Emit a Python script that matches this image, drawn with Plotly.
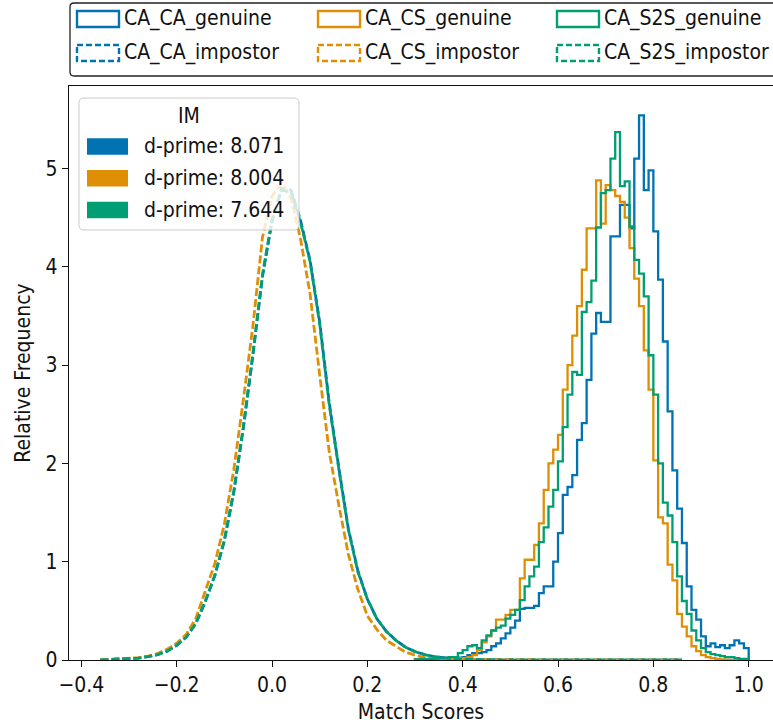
import plotly.graph_objects as go

# ---------------- data ----------------
pairs = ["CA_CA", "CA_CS", "CA_S2S"]
colors = ["#0173B2", "#DE8F05", "#029E73"]
dprime = [8.071, 8.004, 7.644]

# genuine histograms: bins of width 0.01 from 0.30 to 1.00 (density)
gen_edges = [round(0.30 + 0.01 * i, 2) for i in range(71)]
gen_ca_ca = [0.005, 0.005, 0.008, 0.01, 0.01, 0.012, 0.015, 0.02, 0.02, 0.025,
             0.03, 0.05, 0.07, 0.07, 0.08, 0.10, 0.14, 0.17, 0.22, 0.27,
             0.33, 0.40, 0.52, 0.53, 0.53, 0.55, 0.68, 0.75, 0.75, 1.00,
             1.29, 1.68, 1.76, 1.88, 2.24, 2.41, 2.85, 3.32, 3.53, 3.44,
             3.44, 4.31, 4.31, 4.63, 4.63, 4.39, 5.10, 5.54, 4.78, 4.98,
             4.36, 3.87, 3.24, 2.53, 1.93, 1.54, 1.19, 0.75, 0.51, 0.41,
             0.24, 0.14, 0.17, 0.13, 0.15, 0.12, 0.15, 0.20, 0.17, 0.12]
gen_ca_cs = [0.003, 0.004, 0.005, 0.006, 0.008, 0.01, 0.01, 0.012, 0.015, 0.02,
             0.02, 0.03, 0.05, 0.10, 0.18, 0.24, 0.30, 0.41, 0.41, 0.46,
             0.51, 0.51, 0.83, 1.02, 1.02, 1.17, 1.39, 1.73, 2.00, 2.14,
             2.29, 2.75, 3.00, 3.30, 3.60, 3.97, 4.39, 4.39, 4.88, 4.44,
             4.83, 4.78, 4.72, 4.66, 4.50, 4.19, 3.88, 3.60, 3.15, 2.75,
             2.03, 1.45, 1.39, 0.97, 0.81, 0.47, 0.34, 0.24, 0.14, 0.09,
             0.05, 0.03, 0.02, 0.01, 0.005, 0.003, 0.002, 0.0, 0.0, 0.0]
gen_ca_s2s = [0.005, 0.008, 0.01, 0.012, 0.015, 0.02, 0.02, 0.03, 0.03, 0.07,
              0.10, 0.14, 0.15, 0.12, 0.20, 0.25, 0.30, 0.33, 0.35, 0.42,
              0.46, 0.51, 0.61, 0.75, 0.85, 0.95, 1.20, 1.35, 1.56, 1.73,
              2.02, 2.37, 2.70, 2.93, 2.90, 3.54, 3.64, 3.86, 4.40, 4.75,
              4.78, 5.10, 5.37, 4.82, 4.87, 4.41, 4.07, 3.93, 3.70, 3.10,
              2.70, 2.00, 1.60, 1.47, 1.20, 0.85, 0.60, 0.47, 0.30, 0.20,
              0.12, 0.08, 0.06, 0.05, 0.04, 0.03, 0.03, 0.02, 0.01, 0.01]

# impostor distributions: sampled every 0.02 from -0.36 to 0.86
imp_x = [round(-0.36 + 0.02 * i, 2) for i in range(62)]
imp_ca_ca = [0.0, 0.004, 0.008, 0.012, 0.02, 0.034, 0.055, 0.09, 0.15, 0.235,
             0.37, 0.59, 0.86, 1.21, 1.71, 2.36, 3.10, 3.90, 4.46, 4.80,
             4.78, 4.47, 4.06, 3.44, 2.62, 1.96, 1.34, 0.91, 0.62, 0.42,
             0.29, 0.20, 0.13, 0.085, 0.055, 0.035, 0.02, 0.012, 0.007, 0.004,
             0.003, 0.003, 0.002, 0.002, 0.002, 0.002, 0.002, 0.002, 0.002, 0.002,
             0.002, 0.002, 0.002, 0.002, 0.002, 0.002, 0.002, 0.002, 0.002, 0.002,
             0.002, 0.0]
imp_ca_cs = [0.0, 0.005, 0.01, 0.015, 0.025, 0.04, 0.065, 0.11, 0.17, 0.26,
             0.42, 0.70, 0.98, 1.38, 1.94, 2.65, 3.40, 4.30, 4.72, 4.85,
             4.70, 4.28, 3.72, 2.90, 2.12, 1.58, 1.08, 0.72, 0.45, 0.31,
             0.20, 0.14, 0.08, 0.05, 0.025, 0.015, 0.01, 0.006, 0.004, 0.003,
             0.002, 0.002, 0.002, 0.002, 0.002, 0.002, 0.002, 0.002, 0.002, 0.002,
             0.002, 0.002, 0.002, 0.002, 0.002, 0.002, 0.002, 0.002, 0.002, 0.002,
             0.002, 0.0]
imp_ca_s2s = [0.0, 0.004, 0.008, 0.013, 0.02, 0.035, 0.055, 0.09, 0.15, 0.23,
              0.37, 0.60, 0.86, 1.22, 1.72, 2.38, 3.12, 3.92, 4.48, 4.78,
              4.76, 4.45, 4.05, 3.42, 2.60, 1.95, 1.33, 0.90, 0.62, 0.42,
              0.29, 0.20, 0.13, 0.085, 0.055, 0.035, 0.02, 0.012, 0.007, 0.004,
              0.003, 0.003, 0.002, 0.002, 0.002, 0.002, 0.002, 0.002, 0.002, 0.002,
              0.002, 0.002, 0.002, 0.002, 0.002, 0.002, 0.002, 0.002, 0.002, 0.002,
              0.002, 0.0]

x_ticks = [-0.4, -0.2, 0.0, 0.2, 0.4, 0.6, 0.8, 1.0]
y_ticks = [0, 1, 2, 3, 4, 5]

genuine = [gen_ca_ca, gen_ca_cs, gen_ca_s2s]
impostor = [imp_ca_ca, imp_ca_cs, imp_ca_s2s]

# ---------------- figure ----------------
W, H = 773, 724
PL, PR, PT, PB = 69, 773, 86, 660
FONT = "DejaVu Sans Condensed, DejaVu Sans"
FS_LEG = 21
FS_AX = 21

fig = go.Figure()
for i, p in enumerate(pairs):
    # step outline of the genuine histogram
    xs = [gen_edges[0]] + gen_edges
    ys = [0] + genuine[i] + [0]
    fig.add_trace(go.Scatter(x=xs, y=ys, mode="lines", line_shape="hv",
                             line=dict(color=colors[i], width=2.3),
                             name=f"{p}_genuine", showlegend=False,
                             hoverinfo="skip"))
    fig.add_trace(go.Scatter(x=imp_x, y=impostor[i], mode="lines",
                             line=dict(color=colors[i], width=2.8, dash="8px,3px"),
                             name=f"{p}_impostor", showlegend=False,
                             hoverinfo="skip"))


def fx(xp):
    return (xp - PL) / (PR - PL)


def fy(yp):
    return (PB - yp) / (PB - PT)


def rrect(x0, y0, x1, y1, r):
    pts = [("M", x0 + r, y0), ("L", x1 - r, y0), ("Q", x1, y0, x1, y0 + r),
           ("L", x1, y1 - r), ("Q", x1, y1, x1 - r, y1), ("L", x0 + r, y1),
           ("Q", x0, y1, x0, y1 - r), ("L", x0, y0 + r), ("Q", x0, y0, x0 + r, y0)]
    out = []
    for seg in pts:
        cmd = seg[0]
        coords = seg[1:]
        s = cmd
        for k in range(0, len(coords), 2):
            s += f" {fx(coords[k]):.5f},{fy(coords[k + 1]):.5f}"
        out.append(s)
    return " ".join(out) + " Z"


shapes = []
annotations = []

# ---- top legend (outlined patches) ----
shapes.append(dict(type="path", xref="paper", yref="paper",
                   path=rrect(70, 3, 800, 76, 4), fillcolor="white",
                   line=dict(color="#222222", width=1.3), layer="above"))
col_px = [77, 318, 557]
row_px = [11, 45]
kinds = ["genuine", "impostor"]
for c, p in enumerate(pairs):
    for r, kind in enumerate(kinds):
        x0, y0 = col_px[c], row_px[r]
        shapes.append(dict(type="rect", xref="paper", yref="paper",
                           x0=fx(x0), x1=fx(x0 + 42), y0=fy(y0), y1=fy(y0 + 16),
                           line=dict(color=colors[c], width=2.4,
                                     dash="solid" if kind == "genuine" else "6px,3px"),
                           fillcolor="rgba(0,0,0,0)", layer="above"))
        annotations.append(dict(xref="paper", yref="paper", x=fx(x0 + 45),
                                y=fy(y0 + 8), text=f"{p}_{kind}",
                                showarrow=False, xanchor="left", yanchor="middle",
                                font=dict(family=FONT, size=FS_LEG, color="#111111")))

# ---- IM legend (filled patches) ----
shapes.append(dict(type="path", xref="paper", yref="paper",
                   path=rrect(79, 98, 299, 230, 5),
                   fillcolor="rgba(255,255,255,0.8)",
                   line=dict(color="#cccccc", width=1), layer="above"))
annotations.append(dict(xref="paper", yref="paper", x=fx(189), y=fy(116),
                        text="IM", showarrow=False, xanchor="center",
                        yanchor="middle",
                        font=dict(family=FONT, size=FS_LEG, color="#111111")))
im_rows = [146.5, 178.2, 210]
for i in range(3):
    yc = im_rows[i]
    shapes.append(dict(type="rect", xref="paper", yref="paper",
                       x0=fx(87), x1=fx(128), y0=fy(yc - 8.3), y1=fy(yc + 8.3),
                       line=dict(width=0), fillcolor=colors[i], layer="above"))
    annotations.append(dict(xref="paper", yref="paper", x=fx(142), y=fy(yc),
                            text=f"d-prime: {dprime[i]:.3f}", showarrow=False,
                            xanchor="left", yanchor="middle",
                            font=dict(family=FONT, size=FS_LEG, color="#111111")))

x0v = (PL - 272) / 476.7
x1v = (PR - 272) / 476.7
ytop = (PB - PT) / 98.3


def fmt(v):
    s = f"{abs(v):.1f}"
    return ("\u2212" + s) if v < 0 else s


fig.update_layout(
    width=W, height=H,
    margin=dict(l=PL, r=W - PR, t=PT, b=H - PB, pad=0),
    paper_bgcolor="white", plot_bgcolor="white",
    font=dict(family=FONT, size=FS_AX, color="#111111"),
    shapes=shapes, annotations=annotations,
    showlegend=False,
    xaxis=dict(range=[x0v, x1v], tickvals=x_ticks,
               ticktext=[fmt(v) for v in x_ticks],
               showgrid=False, zeroline=False, showline=True, mirror=True,
               linecolor="#111111", linewidth=1.3, ticks="outside", ticklen=6,
               tickwidth=1.3, tickcolor="#111111",
               tickfont=dict(family=FONT, size=FS_AX),
               title=dict(text="Match Scores", standoff=7,
                          font=dict(family=FONT, size=FS_AX))),
    yaxis=dict(range=[0, ytop], tickvals=y_ticks,
               ticktext=[str(v) for v in y_ticks],
               showgrid=False, zeroline=False, showline=True, mirror=False,
               linecolor="#111111", linewidth=1.3, ticks="outside", ticklen=6,
               tickwidth=1.3, tickcolor="#111111",
               tickfont=dict(family=FONT, size=FS_AX),
               title=dict(text="Relative Frequency", standoff=9,
                          font=dict(family=FONT, size=FS_AX))),
)

fig.write_html("out.html", config={"displayModeBar": False},
               post_script="document.body.style.margin='0px';")
